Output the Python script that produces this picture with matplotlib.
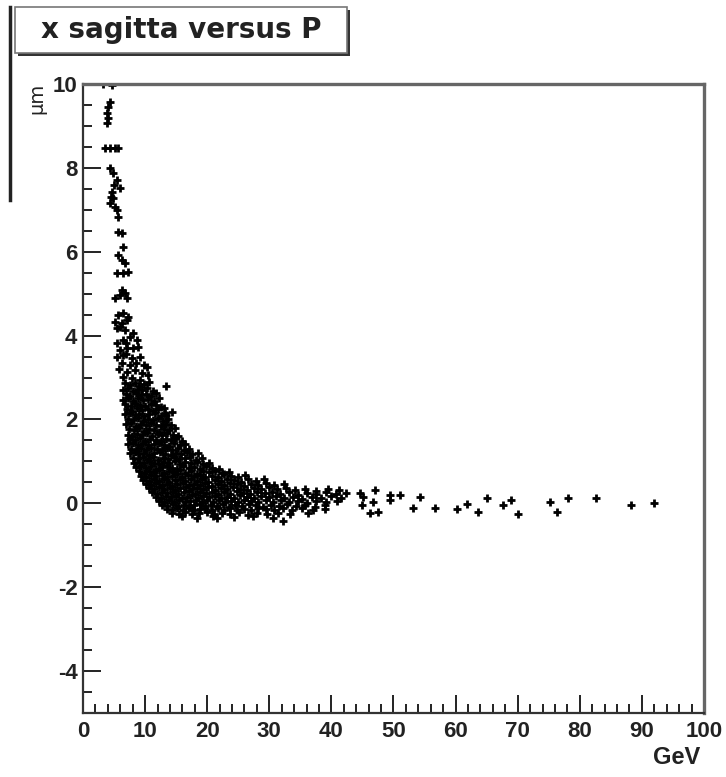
import numpy as np
import matplotlib
matplotlib.use("Agg")
import matplotlib.pyplot as plt
from matplotlib.patches import Rectangle
from matplotlib.lines import Line2D
from matplotlib.ticker import MultipleLocator

plt.rcParams['axes.unicode_minus'] = False

# points: (P [GeV], x sagitta [um])
steep_pts = [
    (3.2, 10.0), (4.7, 9.97), (4.3, 9.57), (3.9, 9.30), (4.0, 9.19), (3.9, 9.07), (4.1, 9.45),
    (3.5, 8.47), (4.3, 8.47), (5.2, 8.47), (5.6, 8.47),
    (4.3, 8.00), (4.8, 7.88), (5.5, 7.71), (6.0, 7.52), (4.7, 7.42), (4.8, 7.28), (4.3, 7.16),
    (5.2, 7.06), (5.6, 6.83), (5.5, 6.99), (5.0, 7.60), (4.5, 7.30),
    (5.6, 6.47), (6.3, 6.44), (6.4, 6.11), (5.6, 5.92), (6.3, 5.80), (6.8, 5.73), (5.5, 5.49),
    (6.4, 5.49), (7.2, 5.51), (6.3, 5.08), (6.8, 5.01), (5.2, 4.89), (6.0, 4.96), (7.1, 4.89),
    (5.6, 4.49), (6.4, 4.53), (7.2, 4.44), (5.2, 4.32), (6.3, 4.30), (7.1, 4.37), (5.5, 4.18),
    (6.8, 4.13), (6.0, 4.20), (8.0, 4.05),
    (5.5, 3.82), (6.4, 3.89), (7.6, 3.96), (8.7, 3.89), (6.9, 3.82), (6.0, 3.65), (7.1, 3.70),
    (8.1, 3.70), (8.9, 3.72), (5.5, 3.48), (6.4, 3.53), (7.0, 3.55), (7.9, 3.46), (9.2, 3.48),
    (6.3, 3.34), (7.6, 3.29), (8.5, 3.35), (9.8, 3.30), (10.3, 3.25), (5.8, 3.20), (7.1, 3.13),
    (8.4, 3.17), (9.5, 3.10), (10.5, 3.05), (6.4, 3.01), (7.9, 2.98), (9.2, 2.94),
]

knee_pts = [
    (6.7, 2.86), (7.5, 2.82), (8.3, 2.88), (9.0, 2.80), (9.8, 2.85), (10.6, 2.90),
    (6.5, 2.70), (7.2, 2.75), (8.0, 2.68), (8.8, 2.73), (9.5, 2.70), (10.3, 2.76), (11.2, 2.69),
    (6.9, 2.60), (7.6, 2.57), (8.5, 2.63), (9.3, 2.58), (10.1, 2.61), (10.9, 2.55), (11.7, 2.62),
    (6.4, 2.47), (7.3, 2.50), (8.0, 2.45), (8.8, 2.51), (9.7, 2.46), (10.5, 2.49), (11.4, 2.44),
    (12.2, 2.52), (13.4, 2.80),
    (6.8, 2.36), (7.7, 2.33), (8.4, 2.39), (9.2, 2.35), (10.0, 2.31), (10.9, 2.38), (11.8, 2.34),
    (12.6, 2.29),
    (7.1, 2.25), (7.9, 2.21), (8.7, 2.27), (9.5, 2.22), (10.4, 2.26), (11.3, 2.20), (12.1, 2.24),
    (13.0, 2.28),
    (6.8, 2.12), (7.5, 2.15), (8.3, 2.10), (9.1, 2.14), (9.9, 2.09), (10.7, 2.13), (11.6, 2.16),
    (12.5, 2.08), (13.4, 2.11), (14.3, 2.17),
    (7.2, 2.01), (8.0, 1.98), (8.8, 2.03), (9.6, 1.97), (10.4, 2.02), (11.2, 1.99), (12.1, 2.04),
    (12.9, 1.96), (13.7, 2.00),
    (7.0, 1.88), (7.8, 1.91), (8.5, 1.85), (9.3, 1.89), (10.1, 1.86), (11.0, 1.92), (11.8, 1.87),
    (12.6, 1.84), (13.4, 1.90), (14.2, 1.86),
    (7.4, 1.77), (8.2, 1.74), (9.0, 1.79), (9.8, 1.73), (10.6, 1.78), (11.5, 1.75), (12.3, 1.71),
    (13.1, 1.77), (13.9, 1.74), (14.8, 1.79),
    (7.2, 1.64), (7.9, 1.61), (8.7, 1.66), (9.5, 1.62), (10.3, 1.67), (11.1, 1.60), (12.0, 1.65),
    (12.8, 1.62), (13.6, 1.68), (14.5, 1.63), (15.3, 1.60),
    (7.6, 1.53), (8.4, 1.50), (9.2, 1.55), (10.0, 1.49), (10.8, 1.54), (11.7, 1.51), (12.5, 1.48),
    (13.3, 1.53), (14.2, 1.50), (15.0, 1.55), (15.9, 1.49),
]

band_pts = [
    (7.3, 1.41), (8.1, 1.44), (8.9, 1.39), (9.7, 1.43), (10.5, 1.38), (11.4, 1.42), (12.2, 1.45),
    (13.0, 1.40), (13.9, 1.37), (14.7, 1.43), (15.6, 1.39), (16.5, 1.42),
    (7.8, 1.30), (8.6, 1.27), (9.4, 1.32), (10.2, 1.28), (11.0, 1.33), (11.9, 1.29), (12.7, 1.26),
    (13.5, 1.31), (14.4, 1.28), (15.3, 1.33), (16.2, 1.27), (17.1, 1.30),
    (7.5, 1.19), (8.3, 1.22), (9.1, 1.17), (9.9, 1.21), (10.7, 1.16), (11.5, 1.20), (12.4, 1.23),
    (13.2, 1.18), (14.1, 1.15), (14.9, 1.21), (15.8, 1.17), (16.7, 1.22), (17.6, 1.18), (18.5, 1.20),
    (8.0, 1.08), (8.8, 1.05), (9.6, 1.10), (10.4, 1.06), (11.2, 1.11), (12.0, 1.04), (12.9, 1.09),
    (13.7, 1.06), (14.6, 1.10), (15.5, 1.05), (16.4, 1.08), (17.3, 1.11), (18.2, 1.04), (19.1, 1.08),
    (8.2, 0.97), (9.0, 0.99), (9.8, 0.95), (10.6, 1.00), (11.4, 0.96), (12.2, 0.93), (13.1, 0.98),
    (13.9, 0.95), (14.8, 1.00), (15.6, 0.94), (16.5, 0.98), (17.4, 0.95), (18.3, 0.99), (19.3, 0.93),
    (20.3, 0.97),
    (8.6, 0.86), (9.4, 0.89), (10.2, 0.84), (11.0, 0.88), (11.8, 0.83), (12.7, 0.87), (13.5, 0.90),
    (14.3, 0.85), (15.2, 0.82), (16.1, 0.88), (17.0, 0.84), (17.9, 0.87), (18.8, 0.83), (19.8, 0.89),
    (20.8, 0.85), (21.9, 0.82),
    (9.0, 0.76), (9.8, 0.73), (10.6, 0.78), (11.4, 0.74), (12.2, 0.79), (13.0, 0.72), (13.9, 0.77),
    (14.7, 0.74), (15.6, 0.79), (16.5, 0.73), (17.4, 0.76), (18.3, 0.71), (19.3, 0.77), (20.3, 0.74),
    (21.3, 0.78), (22.4, 0.73), (23.5, 0.75),
    (9.4, 0.66), (10.2, 0.63), (11.0, 0.68), (11.8, 0.64), (12.7, 0.67), (13.5, 0.62), (14.3, 0.66),
    (15.2, 0.69), (16.0, 0.63), (16.9, 0.67), (17.8, 0.64), (18.8, 0.68), (19.7, 0.62), (20.7, 0.66),
    (21.7, 0.63), (22.7, 0.69), (23.8, 0.65), (24.9, 0.62), (26.1, 0.67),
    (9.7, 0.56), (10.6, 0.53), (11.4, 0.58), (12.2, 0.54), (13.1, 0.57), (13.9, 0.52), (14.8, 0.56),
    (15.6, 0.59), (16.5, 0.53), (17.4, 0.57), (18.3, 0.54), (19.2, 0.58), (20.2, 0.52), (21.2, 0.56),
    (22.2, 0.53), (23.2, 0.59), (24.3, 0.55), (25.4, 0.52), (26.6, 0.57), (27.9, 0.54), (29.2, 0.58),
    (10.2, 0.46), (11.0, 0.43), (11.8, 0.48), (12.7, 0.44), (13.5, 0.47), (14.4, 0.42), (15.2, 0.46),
    (16.1, 0.49), (17.0, 0.43), (17.9, 0.47), (18.8, 0.44), (19.7, 0.48), (20.7, 0.42), (21.7, 0.46),
    (22.7, 0.43), (23.7, 0.49), (24.8, 0.45), (25.9, 0.42), (27.0, 0.47), (28.2, 0.44), (29.5, 0.48),
    (30.8, 0.43), (32.3, 0.46),
    (10.6, 0.36), (11.5, 0.33), (12.3, 0.38), (13.1, 0.34), (14.0, 0.37), (14.8, 0.32), (15.7, 0.36),
    (16.6, 0.39), (17.5, 0.33), (18.4, 0.37), (19.3, 0.34), (20.2, 0.38), (21.2, 0.32), (22.2, 0.36),
    (23.2, 0.33), (24.2, 0.39), (25.3, 0.35), (26.4, 0.32), (27.5, 0.37), (28.7, 0.34), (30.0, 0.38),
    (31.3, 0.33), (32.7, 0.36), (34.2, 0.31), (35.8, 0.35), (37.5, 0.30), (39.4, 0.34), (41.3, 0.31),
    (11.1, 0.26), (11.9, 0.23), (12.8, 0.28), (13.6, 0.24), (14.5, 0.27), (15.3, 0.22), (16.2, 0.26),
    (17.1, 0.29), (18.0, 0.23), (18.9, 0.27), (19.8, 0.24), (20.7, 0.28), (21.7, 0.22), (22.7, 0.26),
    (23.7, 0.23), (24.8, 0.29), (25.8, 0.25), (26.9, 0.22), (28.1, 0.27), (29.3, 0.24), (30.5, 0.28),
    (31.8, 0.23), (33.2, 0.26), (34.6, 0.21), (36.1, 0.25), (37.6, 0.22), (39.1, 0.27), (40.8, 0.23),
    (42.4, 0.25),
    (11.7, 0.16), (12.5, 0.13), (13.3, 0.18), (14.2, 0.14), (15.0, 0.17), (15.9, 0.12), (16.7, 0.16),
    (17.6, 0.19), (18.5, 0.13), (19.4, 0.17), (20.3, 0.14), (21.2, 0.18), (22.2, 0.12), (23.2, 0.16),
    (24.3, 0.13), (25.3, 0.19), (26.4, 0.15), (27.5, 0.12), (28.7, 0.17), (29.9, 0.14), (31.1, 0.18),
    (32.4, 0.13), (33.8, 0.16), (35.3, 0.11), (36.8, 0.15), (38.3, 0.12), (39.9, 0.17), (41.6, 0.13),
    (12.2, 0.06), (13.0, 0.03), (13.8, 0.08), (14.7, 0.04), (15.5, 0.07), (16.4, 0.02), (17.3, 0.06),
    (18.2, 0.09), (19.1, 0.03), (20.0, 0.07), (20.9, 0.04), (21.9, 0.08), (22.8, 0.02), (23.8, 0.06),
    (24.9, 0.03), (25.9, 0.09), (27.0, 0.05), (28.2, 0.02), (29.4, 0.07), (30.6, 0.04), (31.9, 0.08),
    (33.2, 0.03), (34.6, 0.06), (36.1, 0.01), (37.6, 0.05), (39.2, 0.02), (40.9, 0.06),
    (12.8, -0.04), (13.6, -0.07), (14.5, -0.02), (15.3, -0.06), (16.2, -0.03), (17.0, -0.08),
    (17.9, -0.04), (18.8, -0.01), (19.7, -0.07), (20.6, -0.03), (21.6, -0.06), (22.5, -0.02),
    (23.5, -0.08), (24.5, -0.04), (25.6, -0.07), (26.7, -0.01), (27.8, -0.05), (29.0, -0.08),
    (30.2, -0.03), (31.5, -0.06), (32.9, -0.02), (34.3, -0.07), (35.8, -0.04), (37.4, -0.09),
    (39.0, -0.05),
    (13.5, -0.13), (14.4, -0.16), (15.2, -0.11), (16.1, -0.15), (17.0, -0.12), (17.9, -0.17),
    (18.8, -0.13), (19.7, -0.10), (20.7, -0.16), (21.7, -0.12), (22.7, -0.15), (23.7, -0.11),
    (24.8, -0.17), (25.9, -0.13), (27.0, -0.16), (28.2, -0.10), (29.5, -0.14), (30.8, -0.17),
    (32.2, -0.12), (33.7, -0.15), (35.3, -0.11), (37.0, -0.16), (38.9, -0.13),
    (14.3, -0.22), (15.4, -0.25), (16.5, -0.21), (17.6, -0.26), (18.7, -0.23), (19.9, -0.20),
    (21.1, -0.26), (22.4, -0.22), (23.7, -0.25), (25.1, -0.21), (26.6, -0.27), (28.1, -0.23),
    (29.7, -0.26), (31.4, -0.22), (33.3, -0.25), (36.2, -0.24),
    (16.0, -0.31), (18.4, -0.34), (20.9, -0.30), (24.3, -0.33), (27.4, -0.31), (30.6, -0.35),
    (13.2, 2.15), (21.6, -0.36), (32.2, -0.41),
]

tail_pts = [
    (44.6, 0.24), (45.1, 0.14), (44.9, -0.05), (47.0, 0.31), (46.7, 0.02), (46.2, -0.24),
    (47.5, -0.21), (49.4, 0.19), (49.4, 0.07), (51.0, 0.19), (54.3, 0.14), (53.1, -0.10),
    (56.7, -0.10), (60.2, -0.14), (61.8, -0.02), (63.6, -0.21), (65.1, 0.12), (67.6, -0.05),
    (68.9, 0.07), (70.0, -0.26), (75.2, 0.02), (76.3, -0.21), (78.1, 0.12), (82.6, 0.12),
    (88.2, -0.05), (92.0, 0.0),
]

title = "x sagitta versus P"
x_unit = "GeV"
y_unit = "\u03bcm"

pts = np.array(steep_pts + knee_pts + band_pts + tail_pts)

fig = plt.figure(figsize=(7.26, 7.77), dpi=100)
ax = fig.add_axes([0.1143, 0.0824, 0.8554, 0.8095])

ax.plot(pts[:, 0], pts[:, 1], '+', color='black', ms=6, mew=2.0, linestyle='none')

ax.set_xlim(0, 100)
ax.set_ylim(-5, 10)
ax.xaxis.set_major_locator(MultipleLocator(10))
ax.xaxis.set_minor_locator(MultipleLocator(2))
ax.yaxis.set_major_locator(MultipleLocator(2))
ax.yaxis.set_minor_locator(MultipleLocator(0.5))
ax.tick_params(which='both', direction='in', top=False, right=False, color='#222222', width=1.4)
ax.tick_params(which='major', length=13)
ax.tick_params(which='minor', length=6.5)
ax.tick_params(axis='x', pad=6)
ax.tick_params(axis='y', pad=4)
for lab in ax.get_xticklabels() + ax.get_yticklabels():
    lab.set_fontfamily('Liberation Sans')
    lab.set_fontweight('bold')
    lab.set_fontsize(16)
    lab.set_color('#222222')

for side in ['left', 'bottom']:
    ax.spines[side].set_linewidth(1.6)
    ax.spines[side].set_color('#333333')
for side in ['top', 'right']:
    ax.spines[side].set_linewidth(2.4)
    ax.spines[side].set_color('#666666')

# title box with shadow, ROOT style
fig.add_artist(Rectangle((0.0248, 0.9280), 0.457, 0.0592, transform=fig.transFigure,
                         facecolor='#333333', edgecolor='none'))
fig.add_artist(Rectangle((0.0207, 0.9318), 0.457, 0.0592, transform=fig.transFigure,
                         facecolor='white', edgecolor='#777777', linewidth=1.2))
fig.text(0.249, 0.9614, title, ha='center', va='center', fontsize=20,
         fontweight='bold', family='DejaVu Sans', color='#222222')

fig.add_artist(Line2D([0.0138, 0.0138], [0.991, 0.743], transform=fig.transFigure,
                      color='#222222', linewidth=2.5))

fig.text(0.051, 0.893, y_unit, rotation=90, ha='center', va='top', fontsize=14,
         family='DejaVu Sans', color='#222222')
fig.text(0.964, 0.0245, x_unit, ha='right', va='center', fontsize=17,
         fontweight='bold', family='Liberation Sans', color='#222222')

fig.savefig('out.png', dpi=100)
